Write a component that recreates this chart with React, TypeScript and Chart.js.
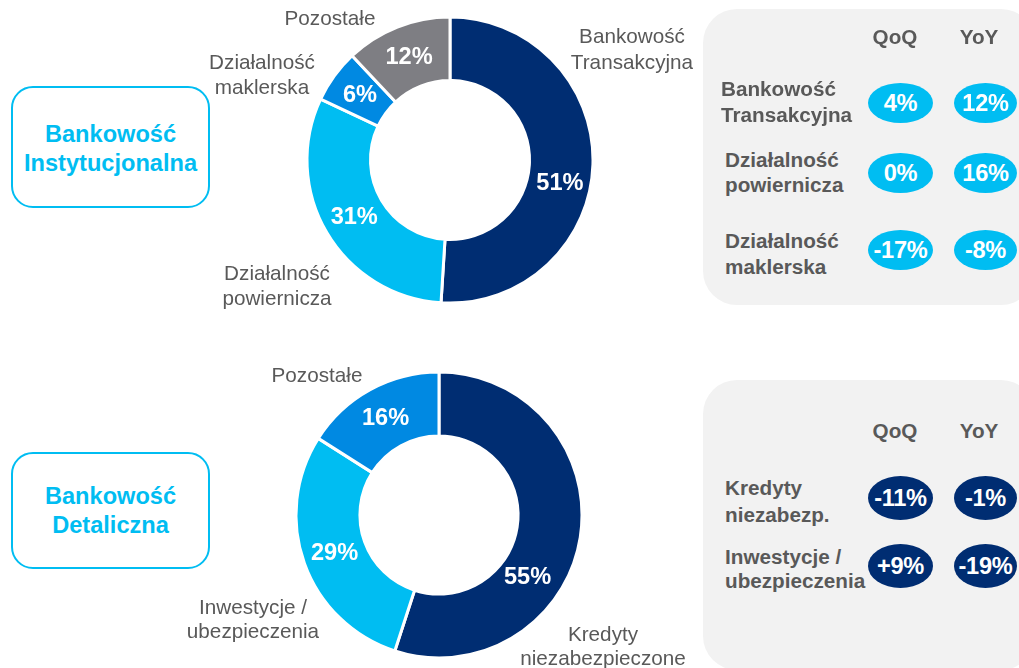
import React, { useEffect, useRef } from 'react';
import { Chart, registerables } from 'chart.js';

Chart.register(...registerables);

// ---------- data ----------
const instCategories = ['Bankowość Transakcyjna', 'Działalność powiernicza', 'Działalność maklerska', 'Pozostałe'];
const instShares = [51, 31, 6, 12];

const retailCategories = ['Kredyty niezabezpieczone', 'Inwestycje / ubezpieczenia', 'Pozostałe'];
const retailShares = [55, 29, 16];

const changeHeaders = ['QoQ', 'YoY'];

const instRowLabels = [['Bankowość', 'Transakcyjna'], ['Działalność', 'powiernicza'], ['Działalność', 'maklerska']];
const instQoQ = ['4%', '0%', '-17%'];
const instYoY = ['12%', '16%', '-8%'];

const retailRowLabels = [['Kredyty', 'niezabezp.'], ['Inwestycje /', 'ubezpieczenia']];
const retailQoQ = ['-11%', '+9%'];
const retailYoY = ['-1%', '-19%'];

const segmentTitles = [['Bankowość', 'Instytucjonalna'], ['Bankowość', 'Detaliczna']];

// ---------- styles ----------
const FONT = "'Liberation Sans', Arial, Helvetica, sans-serif";
const NAVY = '#002D72';
const CYAN = '#00BDF2';
const MID = '#0089E2';
const GREY = '#7E7E83';
const TEXT = '#595959';
const PANEL = '#F2F2F2';
const LBL = 20.7;

const pctLabels = {
  id: 'pctLabels',
  afterDatasetsDraw(chart: any, _args: any, opts: any) {
    const ctx = chart.ctx;
    const meta = chart.getDatasetMeta(0);
    const data = chart.data.datasets[0].data;
    ctx.save();
    ctx.font = `bold 23.6px ${FONT}`;
    ctx.fillStyle = '#ffffff';
    ctx.textAlign = 'center';
    ctx.textBaseline = 'middle';
    meta.data.forEach((arc: any, i: number) => {
      const p = arc.getProps(['x', 'y', 'startAngle', 'endAngle', 'innerRadius', 'outerRadius'], true);
      const a = (p.startAngle + p.endAngle) / 2 + ((opts.angleShift && opts.angleShift[i]) || 0) * Math.PI / 180;
      const r = (p.innerRadius + p.outerRadius) / 2 + ((opts.radiusShift && opts.radiusShift[i]) || 0);
      ctx.fillText(data[i] + '%', p.x + r * Math.cos(a), p.y + r * Math.sin(a) + 1);
    });
    ctx.restore();
  },
};

type DonutProps = {
  labels: string[];
  values: number[];
  colors: string[];
  left: number;
  top: number;
  size: number;
  radius: number;
  cutout: string;
  angleShift: number[];
  radiusShift: number[];
};

function Donut(props: DonutProps) {
  const ref = useRef<HTMLCanvasElement | null>(null);
  useEffect(() => {
    if (!ref.current) return;
    const chart = new Chart(ref.current, {
      type: 'doughnut',
      data: {
        labels: props.labels,
        datasets: [
          {
            data: props.values,
            backgroundColor: props.colors,
            borderColor: '#ffffff',
            borderWidth: 3,
            hoverOffset: 0,
          },
        ],
      },
      options: {
        responsive: false,
        animation: false,
        radius: props.radius,
        cutout: props.cutout,
        layout: { padding: 0 },
        plugins: {
          legend: { display: false },
          tooltip: { enabled: false },
          pctLabels: { angleShift: props.angleShift, radiusShift: props.radiusShift },
        } as any,
      } as any,
      plugins: [pctLabels],
    });
    return () => chart.destroy();
  }, []);
  return (
    <canvas
      ref={ref}
      width={props.size}
      height={props.size}
      style={{ position: 'absolute', left: props.left, top: props.top, width: props.size, height: props.size }}
    />
  );
}

function Txt(p: { x: number; y: number; text: string; size: number; bold?: boolean; color: string; align?: 'center' | 'left' }) {
  const center = p.align !== 'left';
  return (
    <div
      style={{
        position: 'absolute',
        left: p.x,
        top: p.y,
        transform: center ? 'translate(-50%, -50%)' : 'translate(0, -50%)',
        fontSize: p.size,
        lineHeight: 1,
        fontWeight: p.bold ? 700 : 400,
        color: p.color,
        whiteSpace: 'nowrap',
        fontFamily: FONT,
      }}
    >
      {p.text}
    </div>
  );
}

function Badge(p: { cx: number; cy: number; w: number; h: number; text: string; color: string }) {
  return (
    <div
      style={{
        position: 'absolute',
        left: p.cx - p.w / 2,
        top: p.cy - p.h / 2,
        width: p.w,
        height: p.h,
        borderRadius: '50%',
        background: p.color,
        color: '#fff',
        fontWeight: 700,
        fontSize: 23.6,
        lineHeight: `${p.h}px`,
        textAlign: 'center',
        fontFamily: FONT,
        whiteSpace: 'nowrap',
        letterSpacing: -0.3,
      }}
    >
      {p.text}
    </div>
  );
}

function TitleBox(p: { left: number; top: number; w: number; h: number; lines: string[]; y0: number; gap: number }) {
  return (
    <>
      <div
        style={{
          position: 'absolute',
          left: p.left,
          top: p.top,
          width: p.w,
          height: p.h,
          boxSizing: 'border-box',
          border: `2.5px solid ${CYAN}`,
          borderRadius: 22,
        }}
      />
      {p.lines.map((t, i) => (
        <Txt key={i} x={p.left + p.w / 2} y={p.y0 + i * p.gap} text={t} size={23.6} bold color={CYAN} />
      ))}
    </>
  );
}

export default function App() {
  const qx = 900.5;
  const yx = 985.5;
  const instRowsY = [103, 173, 250];
  const instLabelY = [[89, 115], [160, 185], [241, 267]];
  const instLabelX = [721, 725, 725];
  const retailRowsY = [498, 566];
  const retailLabelY = [[488, 515], [557, 581]];

  return (
    <div
      style={{
        position: 'fixed',
        left: 0,
        top: 0,
        width: 1019,
        height: 668,
        overflow: 'hidden',
        background: '#ffffff',
        fontFamily: FONT,
      }}
    >
      {/* left title boxes */}
      <TitleBox left={11} top={86} w={199} h={122} lines={segmentTitles[0]} y0={135} gap={29} />
      <TitleBox left={11} top={452} w={199} h={117} lines={segmentTitles[1]} y0={497} gap={29} />

      {/* donuts */}
      <Donut
        labels={instCategories}
        values={instShares}
        colors={[NAVY, CYAN, MID, GREY]}
        left={300}
        top={10}
        size={300}
        radius={143}
        cutout="55.6%"
        angleShift={[10, 0, 0, 0]}
        radiusShift={[1, 0, 0, 0]}
      />
      <Donut
        labels={retailCategories}
        values={retailShares}
        colors={[NAVY, CYAN, MID]}
        left={289}
        top={365}
        size={300}
        radius={143}
        cutout="55.3%"
        angleShift={[26, 0, 0]}
        radiusShift={[-3, 0, 0]}
      />

      {/* outside labels - institutional */}
      <Txt x={330} y={18} text="Pozostałe" size={LBL} color={TEXT} />
      <Txt x={262} y={62} text="Działalność" size={LBL} color={TEXT} />
      <Txt x={262} y={87} text="maklerska" size={LBL} color={TEXT} />
      <Txt x={632} y={36} text="Bankowość" size={LBL} color={TEXT} />
      <Txt x={632} y={62} text="Transakcyjna" size={LBL} color={TEXT} />
      <Txt x={277} y={273} text="Działalność" size={LBL} color={TEXT} />
      <Txt x={277} y={298} text="powiernicza" size={LBL} color={TEXT} />

      {/* outside labels - retail */}
      <Txt x={317} y={375} text="Pozostałe" size={LBL} color={TEXT} />
      <Txt x={253} y={607} text="Inwestycje /" size={LBL} color={TEXT} />
      <Txt x={253} y={631} text="ubezpieczenia" size={LBL} color={TEXT} />
      <Txt x={603} y={634} text="Kredyty" size={LBL} color={TEXT} />
      <Txt x={603} y={658} text="niezabezpieczone" size={LBL} color={TEXT} />

      {/* right panels */}
      <div style={{ position: 'absolute', left: 703, top: 9, width: 332, height: 296, background: PANEL, borderRadius: 34 }} />
      <div style={{ position: 'absolute', left: 703, top: 380, width: 332, height: 290, background: PANEL, borderRadius: 34 }} />

      <Txt x={895} y={37} text={changeHeaders[0]} size={LBL} bold color={TEXT} />
      <Txt x={979} y={37} text={changeHeaders[1]} size={LBL} bold color={TEXT} />
      {instRowLabels.map((lines, i) => (
        <React.Fragment key={'il' + i}>
          <Txt x={instLabelX[i]} y={instLabelY[i][0]} text={lines[0]} size={LBL} bold color={TEXT} align="left" />
          <Txt x={instLabelX[i]} y={instLabelY[i][1]} text={lines[1]} size={LBL} bold color={TEXT} align="left" />
          <Badge cx={qx} cy={instRowsY[i]} w={65} h={40} text={instQoQ[i]} color={CYAN} />
          <Badge cx={yx} cy={instRowsY[i]} w={63} h={40} text={instYoY[i]} color={CYAN} />
        </React.Fragment>
      ))}

      <Txt x={895} y={431} text={changeHeaders[0]} size={LBL} bold color={TEXT} />
      <Txt x={979} y={431} text={changeHeaders[1]} size={LBL} bold color={TEXT} />
      {retailRowLabels.map((lines, i) => (
        <React.Fragment key={'rl' + i}>
          <Txt x={725} y={retailLabelY[i][0]} text={lines[0]} size={LBL} bold color={TEXT} align="left" />
          <Txt x={725} y={retailLabelY[i][1]} text={lines[1]} size={LBL} bold color={TEXT} align="left" />
          <Badge cx={qx} cy={retailRowsY[i]} w={65} h={44} text={retailQoQ[i]} color={NAVY} />
          <Badge cx={yx} cy={retailRowsY[i]} w={63} h={44} text={retailYoY[i]} color={NAVY} />
        </React.Fragment>
      ))}
    </div>
  );
}
